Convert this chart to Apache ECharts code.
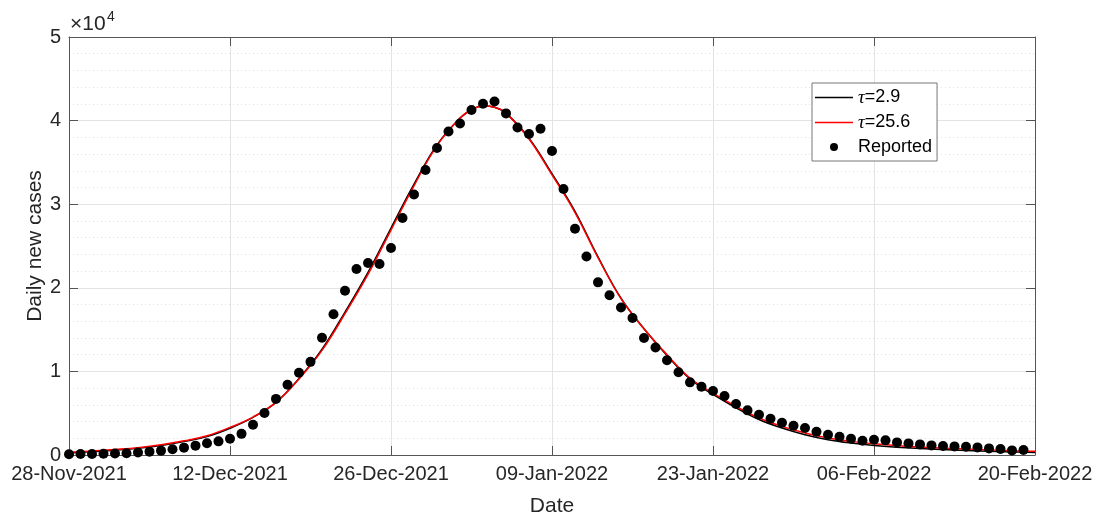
<!DOCTYPE html>
<html>
<head>
<meta charset="utf-8">
<script src="https://cdn.jsdelivr.net/npm/echarts@6/dist/echarts.min.js"></script>
<style>
  html, body { margin: 0; padding: 0; background: #fff; }
  #chart { width: 1096px; height: 516px; }
</style>
</head>
<body>
<div id="chart"></div>
<script>
// Days since 28-Nov-2021; ticks every two weeks
const xTickLabels = ['28-Nov-2021', '12-Dec-2021', '26-Dec-2021', '09-Jan-2022', '23-Jan-2022', '06-Feb-2022', '20-Feb-2022'];
const yTickLabels = ['0', '1', '2', '3', '4', '5'];

// Reported daily new cases, one value per day starting 28-Nov-2021
const reported = [
  100, 120, 130, 160, 180, 220, 290, 400, 520, 680,
  880, 1120, 1400, 1630, 1950, 2530, 3610, 5030, 6710, 8400,
  9840, 11140, 14030, 16840, 19650, 22250, 22960, 22840, 24760, 28350,
  31170, 34090, 36720, 38700, 39660, 41260, 42020, 42290, 40860, 39180,
  38390, 39030, 36360, 31810, 27070, 23740, 20650, 19110, 17640, 16380,
  13990, 12850, 11340, 9900, 8690, 8170, 7650, 7060, 6100, 5340,
  4820, 4340, 3860, 3500, 3230, 2790, 2430, 2190, 1950, 1710,
  1830, 1750, 1510, 1390, 1270, 1150, 1070, 1030, 990, 910,
  790, 710, 550, 590
];

// Model curves sampled at these days
const curveDays = [0, 2, 4, 6, 8, 10, 12, 14, 16, 18, 20, 22, 24, 26, 28, 30, 32, 34, 35, 36, 37, 38, 40, 42, 44, 46, 48, 50, 52, 54, 56, 58, 60, 62, 64, 66, 68, 70, 74, 78, 82, 84];
const fitTau29 = [250, 400, 580, 800, 1130, 1600, 2200, 3200, 4500, 6300, 9150, 12650, 17100, 21850, 27150, 32400, 37100, 40300, 41300, 41750, 41600, 40900, 37900, 33650, 29150, 23700, 18750, 15100, 11900, 9100, 7250, 5650, 4250, 3230, 2430, 1830, 1430, 1150, 780, 530, 370, 300];
const fitTau256 = [320, 480, 660, 880, 1220, 1700, 2300, 3300, 4540, 6300, 9090, 12510, 16900, 21600, 26900, 32200, 37000, 40300, 41300, 41750, 41600, 40900, 37800, 33500, 29000, 23600, 18700, 15100, 12000, 9200, 7400, 5820, 4420, 3420, 2630, 2030, 1630, 1350, 960, 720, 520, 460];

const FONT = '"Liberation Sans", Arial, Helvetica, sans-serif';
const AXIS_COLOR = '#555555';
const TEXT_COLOR = '#262626';
const LINE_ICON = 'path://M0,0L40,0L40,1.6L0,1.6Z';

const pairs = (xs, ys) => xs.map((x, i) => [x, ys[i]]);

const chart = echarts.init(document.getElementById('chart'), null, { renderer: 'canvas' });

const tickStyle = { show: true, inside: true, length: 9, lineStyle: { color: AXIS_COLOR, width: 1 } };

chart.setOption({
  backgroundColor: '#ffffff',
  animation: false,
  grid: { left: 69, top: 37, width: 966, height: 418, containLabel: false, outerBoundsMode: 'none' },
  xAxis: [
    {
      type: 'value', position: 'bottom', min: 0, max: 84, interval: 14,
      name: 'Date', nameLocation: 'middle', nameGap: 41, nameMoveOverlap: false,
      nameTextStyle: { fontFamily: FONT, fontSize: 21, color: TEXT_COLOR },
      axisLine: { show: true, onZero: false, lineStyle: { color: AXIS_COLOR, width: 1 } },
      axisTick: tickStyle,
      axisLabel: {
        margin: 9, fontFamily: FONT, fontSize: 20, color: TEXT_COLOR,
        formatter: v => xTickLabels[Math.round(v / 14)]
      },
      splitLine: { show: true, lineStyle: { color: '#e3e3e3', width: 1 } }
    },
    {
      type: 'value', position: 'top', min: 0, max: 84, interval: 14,
      axisLine: { show: true, onZero: false, lineStyle: { color: AXIS_COLOR, width: 1 } },
      axisTick: tickStyle, axisLabel: { show: false }, splitLine: { show: false }
    }
  ],
  yAxis: [
    {
      type: 'value', position: 'left', min: 0, max: 50000, interval: 10000,
      name: 'Daily new cases', nameLocation: 'middle', nameGap: 23, nameMoveOverlap: false,
      nameTextStyle: { fontFamily: FONT, fontSize: 21, color: TEXT_COLOR },
      axisLine: { show: true, onZero: false, lineStyle: { color: AXIS_COLOR, width: 1 } },
      axisTick: tickStyle,
      axisLabel: {
        margin: 8, fontFamily: FONT, fontSize: 20, color: TEXT_COLOR,
        formatter: v => yTickLabels[Math.round(v / 10000)]
      },
      splitLine: { show: true, lineStyle: { color: '#e3e3e3', width: 1 } },
      minorTick: { show: false, splitNumber: 5 },
      minorSplitLine: { show: true, lineStyle: { color: '#e2e2e2', width: 1, type: [1, 3] } }
    },
    {
      type: 'value', position: 'right', min: 0, max: 50000, interval: 10000,
      axisLine: { show: true, onZero: false, lineStyle: { color: AXIS_COLOR, width: 1 } },
      axisTick: tickStyle, axisLabel: { show: false }, splitLine: { show: false }
    }
  ],
  legend: {
    orient: 'vertical', left: 812, top: 83,
    padding: [5, 5, 5, 3], itemGap: 6, itemWidth: 38, itemHeight: 8,
    backgroundColor: '#ffffff', borderColor: '#777777', borderWidth: 1, borderRadius: 0,
    selectedMode: false,
    textStyle: {
      fontFamily: FONT, fontSize: 18, lineHeight: 18, color: '#000',
      rich: {
        t: { fontFamily: '"Liberation Serif", "DejaVu Serif", serif', fontStyle: 'italic', fontSize: 19, color: '#000' }
      }
    },
    formatter: name => name.replace('τ', '{t|τ}'),
    data: [
      { name: 'τ=2.9', icon: LINE_ICON },
      { name: 'τ=25.6', icon: LINE_ICON },
      { name: 'Reported', icon: 'circle' }
    ]
  },
  graphic: [
    { type: 'text', left: 70, top: 14, style: { text: '×10', font: '21px ' + FONT, fill: TEXT_COLOR } },
    { type: 'text', left: 107, top: 10, style: { text: '4', font: '14px ' + FONT, fill: TEXT_COLOR } }
  ],
  series: [
    {
      name: 'τ=2.9', type: 'line', smooth: 0.4, symbol: 'none',
      lineStyle: { color: '#000000', width: 1.5 }, itemStyle: { color: '#000000' },
      data: pairs(curveDays, fitTau29), z: 2
    },
    {
      name: 'τ=25.6', type: 'line', smooth: 0.4, symbol: 'none',
      lineStyle: { color: '#ff0000', width: 1.5 }, itemStyle: { color: '#ff0000' },
      data: pairs(curveDays, fitTau256), z: 3
    },
    {
      name: 'Reported', type: 'scatter', symbol: 'circle', symbolSize: 10,
      itemStyle: { color: '#000000', opacity: 1 },
      data: reported.map((v, i) => [i, v]), z: 4
    }
  ]
});
</script>
</body>
</html>
